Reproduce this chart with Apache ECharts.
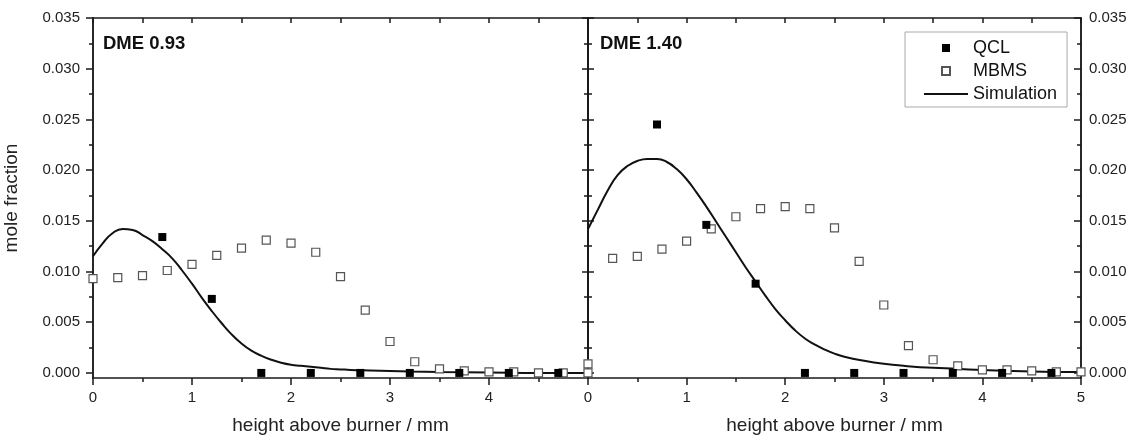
<!DOCTYPE html>
<html>
<head>
<meta charset="utf-8">
<script src="https://cdn.jsdelivr.net/npm/echarts@6/dist/echarts.min.js"></script>
<style>html,body{margin:0;padding:0;background:#fff}#c{width:1133px;height:441px}</style>
</head>
<body>
<div id="c"></div>
<script>
// ---- data ----
var qclX = [0.7, 1.2, 1.7, 2.2, 2.7, 3.2, 3.7, 4.2, 4.7];
var qclLeft = [0.0134, 0.0073, 0, 0, 0, 0, 0, 0, 0];
var qclRight = [0.0245, 0.0146, 0.0088, 0, 0, 0, 0, 0, 0];

var mbmsX = [0, 0.25, 0.5, 0.75, 1.0, 1.25, 1.5, 1.75, 2.0, 2.25, 2.5, 2.75, 3.0, 3.25, 3.5, 3.75, 4.0, 4.25, 4.5, 4.75, 5.0];
var mbmsLeft = [0.0093, 0.0094, 0.0096, 0.0101, 0.0107, 0.0116, 0.0123, 0.0131, 0.0128, 0.0119, 0.0095, 0.0062, 0.0031, 0.0011, 0.0004, 0.0002, 0.0001, 0.0001, 0.0000, 0.0000, 0.0000];
var mbmsRight = [0.0009, 0.0113, 0.0115, 0.0122, 0.0130, 0.0142, 0.0154, 0.0162, 0.0164, 0.0162, 0.0143, 0.0110, 0.0067, 0.0027, 0.0013, 0.0007, 0.0003, 0.0003, 0.0002, 0.0001, 0.0001];

var simX = [0, 0.1, 0.2, 0.3, 0.4, 0.5, 0.6, 0.7, 0.8, 0.9, 1.0, 1.1, 1.2, 1.3, 1.4, 1.5, 1.6, 1.7, 1.8, 1.9, 2.0, 2.1, 2.2, 2.3, 2.4, 2.5, 2.6, 2.8, 3.0, 3.2, 3.5, 4.0, 4.5, 5.0];
var simLeft = [0.0115, 0.0128, 0.0138, 0.0142, 0.0141, 0.0136, 0.0130, 0.0122, 0.0113, 0.0101, 0.0088, 0.0074, 0.0061, 0.0049, 0.0038, 0.0029, 0.0022, 0.0017, 0.0013, 0.0010, 0.0008, 0.0007, 0.0006, 0.0005, 0.0004, 0.00035, 0.0003, 0.00025, 0.0002, 0.00015, 0.0001, 0.00005, 0.0000, 0.0000];
var simRight = [0.0142, 0.0161, 0.0180, 0.0195, 0.0204, 0.0209, 0.0211, 0.0211, 0.0208, 0.0201, 0.0191, 0.0178, 0.0164, 0.0149, 0.0134, 0.0119, 0.0104, 0.0090, 0.0076, 0.0063, 0.0052, 0.0042, 0.0034, 0.0028, 0.0023, 0.0019, 0.0016, 0.0012, 0.0009, 0.0007, 0.0005, 0.0003, 0.00015, 0.0001];

var panelTitles = ['DME 0.93', 'DME 1.40'];
var yTicks = [0, 0.005, 0.010, 0.015, 0.020, 0.025, 0.030, 0.035];
var yMinorTicks = [0.0025, 0.0075, 0.0125, 0.0175, 0.0225, 0.0275, 0.0325];

// ---- helpers ----
function zip(xs, ys) { return xs.map(function (x, i) { return [x, ys[i]]; }); }
var FONT = '"Liberation Sans", Arial, sans-serif';
var TXT = '#222';
var AX = { color: '#1a1a1a', width: 1.5 };
var Y_MIN = -0.0005, Y_MAX = 0.035;

function xAxisBottom(g, hideLast) {
  return {
    type: 'value', gridIndex: g, position: 'bottom', min: 0, max: 5, interval: 1,
    axisLine: { show: true, onZero: false, lineStyle: AX },
    axisTick: { show: true, inside: false, length: 7, lineStyle: AX },
    minorTick: { show: true, splitNumber: 2, length: 4, lineStyle: AX },
    splitLine: { show: false }, minorSplitLine: { show: false },
    axisLabel: {
      fontSize: 15, fontFamily: FONT, color: TXT, margin: 12,
      formatter: function (v) { return (hideLast && v === 5) ? '' : String(v); }
    },
    name: 'height above burner / mm', nameLocation: 'middle', nameGap: 38,
    nameTextStyle: { fontSize: 19, fontFamily: FONT, color: TXT }
  };
}
function xAxisTop(g) {
  return {
    type: 'value', gridIndex: g, position: 'top', min: 0, max: 5, interval: 1,
    axisLine: { show: true, onZero: false, lineStyle: AX },
    axisTick: { show: true, inside: true, length: 5, lineStyle: AX },
    minorTick: { show: true, splitNumber: 2, length: 5, lineStyle: AX },
    splitLine: { show: false }, axisLabel: { show: false }
  };
}
function yAxis(g, pos, inside, len, values, labels, margin, name) {
  var a = {
    type: 'value', gridIndex: g, position: pos, min: Y_MIN, max: Y_MAX,
    axisLine: { show: true, onZero: false, lineStyle: AX },
    axisTick: { show: true, inside: inside, length: len, customValues: values, lineStyle: AX },
    splitLine: { show: false },
    axisLabel: labels ? {
      show: true, customValues: values, fontSize: 15, fontFamily: FONT, color: TXT, margin: margin,
      formatter: function (v) { return v.toFixed(3); }
    } : { show: false }
  };
  if (name) {
    a.name = name; a.nameLocation = 'middle'; a.nameGap = 72;
    a.nameTextStyle = { fontSize: 19, fontFamily: FONT, color: TXT };
  }
  return a;
}

var yAxes = [
  // grid 0 (left panel)
  yAxis(0, 'left', false, 7, yTicks, true, 13, 'mole fraction'),   // 0
  yAxis(0, 'left', false, 4, yMinorTicks, false),                  // 1
  yAxis(0, 'right', true, 6, yTicks, false),                       // 2
  yAxis(0, 'right', true, 4, yMinorTicks, false),                  // 3
  // grid 1 (right panel)
  yAxis(1, 'left', true, 6, yTicks, false),                        // 4
  yAxis(1, 'left', true, 4, yMinorTicks, false),                   // 5
  yAxis(1, 'right', true, 7, yTicks, true, 8),                     // 6
  yAxis(1, 'right', true, 4, yMinorTicks, false)                   // 7
];

var qclStyle = { color: '#000', opacity: 1 };
var mbmsStyle = { color: '#fff', borderColor: '#555', borderWidth: 1.2, opacity: 1 };
var simStyle = { color: '#111', width: 2 };

function scatter(name, g, yIdx, data, style, z) {
  return { name: name, type: 'scatter', xAxisIndex: g * 2, yAxisIndex: yIdx, data: data,
    symbol: 'rect', symbolSize: 8, itemStyle: style, clip: false, z: z, silent: true };
}
function line(g, yIdx, data) {
  return { name: 'Simulation', type: 'line', xAxisIndex: g * 2, yAxisIndex: yIdx, data: data,
    symbol: 'none', showSymbol: false, smooth: 0.5,
    lineStyle: simStyle, itemStyle: { color: '#111' }, z: 2, silent: true };
}

var SQ = 'path://M0,0L10,0L10,10L0,10Z';
var LN = 'path://M0,0L44,0L44,2L0,2Z';

var option = {
  animation: false,
  backgroundColor: '#fff',
  textStyle: { fontFamily: FONT },
  title: [
    { text: panelTitles[0], left: 103, top: 34, padding: 0,
      textStyle: { fontSize: 18.5, fontWeight: 'bold', fontFamily: FONT, color: '#111' } },
    { text: panelTitles[1], left: 600, top: 34, padding: 0,
      textStyle: { fontSize: 18.5, fontWeight: 'bold', fontFamily: FONT, color: '#111' } }
  ],
  legend: {
    orient: 'vertical', left: 905, top: 32,
    padding: [6, 10, 3, 19], itemGap: 3, itemWidth: 44, itemHeight: 8,
    borderColor: '#aaa', borderWidth: 1, backgroundColor: '#fff',
    selectedMode: false,
    textStyle: { fontSize: 18, lineHeight: 20, fontFamily: FONT, color: '#111' },
    data: [
      { name: 'QCL', icon: SQ },
      { name: 'MBMS', icon: SQ },
      { name: 'Simulation', icon: LN, itemStyle: { color: '#111', borderWidth: 0 } }
    ]
  },
  grid: [
    { left: 93, top: 18, width: 495, height: 360 },
    { left: 588, top: 18, width: 493, height: 360 }
  ],
  xAxis: [xAxisBottom(0, true), xAxisTop(0), xAxisBottom(1, false), xAxisTop(1)],
  yAxis: yAxes,
  series: [
    line(0, 0, zip(simX, simLeft)),
    scatter('MBMS', 0, 0, zip(mbmsX, mbmsLeft), mbmsStyle, 3),
    scatter('QCL', 0, 0, zip(qclX, qclLeft), qclStyle, 4),
    line(1, 6, zip(simX, simRight)),
    scatter('MBMS', 1, 6, zip(mbmsX, mbmsRight), mbmsStyle, 3),
    scatter('QCL', 1, 6, zip(qclX, qclRight), qclStyle, 4)
  ]
};

var chart = echarts.init(document.getElementById('c'), null, { renderer: 'canvas' });
chart.setOption(option);
</script>
</body>
</html>
